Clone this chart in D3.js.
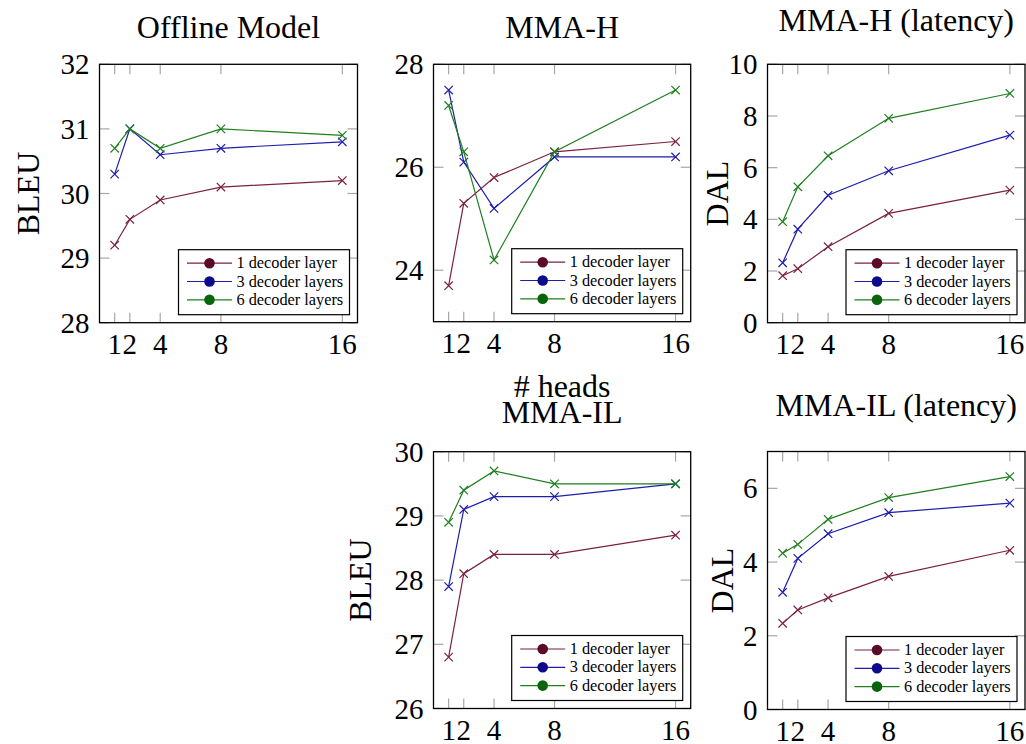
<!DOCTYPE html>
<html>
<head>
<meta charset="utf-8">
<script src="https://cdn.jsdelivr.net/npm/d3@7"></script>
<style>
  html, body { margin: 0; padding: 0; background: #fff; }
  svg { display: block; }
  text { font-family: "Liberation Serif", "Times New Roman", serif; fill: #000; }
</style>
</head>
<body>
<svg id="chart" width="1026" height="744"></svg>
<script>
// Number of attention heads on the x axis
const heads = [1, 2, 4, 8, 16];
const seriesNames = ["1 decoder layer", "3 decoder layers", "6 decoder layers"];

// Offline model BLEU
const offline1 = [29.2, 29.6, 29.9, 30.1, 30.2];
const offline3 = [30.3, 31.0, 30.6, 30.7, 30.8];
const offline6 = [30.7, 31.0, 30.7, 31.0, 30.9];

// MMA-H BLEU
const mmaH1 = [23.7, 25.3, 25.8, 26.3, 26.5];
const mmaH3 = [27.5, 26.1, 25.2, 26.2, 26.2];
const mmaH6 = [27.2, 26.3, 24.2, 26.3, 27.5];

// MMA-H latency (DAL)
const mmaHLat1 = [1.82, 2.09, 2.94, 4.23, 5.13];
const mmaHLat3 = [2.32, 3.62, 4.93, 5.88, 7.26];
const mmaHLat6 = [3.91, 5.26, 6.46, 7.91, 8.87];

// MMA-IL BLEU
const mmaIL1 = [26.8, 28.1, 28.4, 28.4, 28.7];
const mmaIL3 = [27.9, 29.1, 29.3, 29.3, 29.5];
const mmaIL6 = [28.9, 29.4, 29.7, 29.5, 29.5];

// MMA-IL latency (DAL)
const mmaILLat1 = [2.34, 2.70, 3.03, 3.61, 4.32];
const mmaILLat3 = [3.18, 4.10, 4.77, 5.34, 5.60];
const mmaILLat6 = [4.24, 4.48, 5.16, 5.75, 6.32];

// Axis tick values
const bleuTicksOffline = [28, 29, 30, 31, 32];
const bleuTicksMmaH = [24, 26, 28];
const dalTicksMmaH = [0, 2, 4, 6, 8, 10];
const bleuTicksMmaIL = [26, 27, 28, 29, 30];
const dalTicksMmaIL = [0, 2, 4, 6];

const lineColors = ["#7a2140", "#1d1dae", "#1f7f1f"];
const dotColors = ["#5a0a28", "#0b0b8c", "#0a650a"];

const panels = [
  { title: "Offline Model", ylabel: "BLEU", xlabel: null,
    box: [99.5, 64.3, 357.5, 322.7], yDomain: [28, 32], yTicks: bleuTicksOffline,
    series: [offline1, offline3, offline6], titleY: 38, ylabelX: 39 },
  { title: "MMA-H", ylabel: null, xlabel: "# heads",
    box: [433.5, 64.3, 690.7, 321.7], yDomain: [23, 28], yTicks: bleuTicksMmaH,
    series: [mmaH1, mmaH3, mmaH6], titleY: 38 },
  { title: "MMA-H (latency)", ylabel: "DAL", xlabel: null,
    box: [767.5, 64.3, 1025, 322.7], yDomain: [0, 10], yTicks: dalTicksMmaH,
    series: [mmaHLat1, mmaHLat3, mmaHLat6], titleY: 31, ylabelX: 728 },
  { title: "MMA-IL", ylabel: "BLEU", xlabel: null,
    box: [433.5, 451.7, 690.7, 708.5], yDomain: [26, 30], yTicks: bleuTicksMmaIL,
    series: [mmaIL1, mmaIL3, mmaIL6], titleY: 423, ylabelX: 371 },
  { title: "MMA-IL (latency)", ylabel: "DAL", xlabel: null,
    box: [767.5, 451.5, 1025, 709.5], yDomain: [0, 7], yTicks: dalTicksMmaIL,
    series: [mmaILLat1, mmaILLat3, mmaILLat6], titleY: 416, ylabelX: 733 }
];

const svg = d3.select("#chart");
const tickFont = 29;
const labelFont = 32;
const tickLen = 10;

panels.forEach(p => {
  const [x0, y0, x1, y1] = p.box;
  const x = d3.scaleLinear().domain([0, 17]).range([x0, x1]);
  const y = d3.scaleLinear().domain(p.yDomain).range([y1, y0]);
  const g = svg.append("g");

  // inner tick marks on all four sides
  const tickG = g.append("g").attr("stroke", "#a6a6a6").attr("stroke-width", 1.2);
  heads.forEach(h => {
    tickG.append("line").attr("x1", x(h)).attr("x2", x(h)).attr("y1", y1).attr("y2", y1 - tickLen);
    tickG.append("line").attr("x1", x(h)).attr("x2", x(h)).attr("y1", y0).attr("y2", y0 + tickLen);
  });
  p.yTicks.forEach(t => {
    tickG.append("line").attr("x1", x0).attr("x2", x0 + tickLen).attr("y1", y(t)).attr("y2", y(t));
    tickG.append("line").attr("x1", x1).attr("x2", x1 - tickLen).attr("y1", y(t)).attr("y2", y(t));
  });

  // frame
  g.append("rect").attr("x", x0).attr("y", y0).attr("width", x1 - x0).attr("height", y1 - y0)
    .attr("fill", "none").attr("stroke", "#000").attr("stroke-width", 1.3);

  // tick labels
  g.selectAll(".xt").data(heads).enter().append("text")
    .attr("x", d => x(d)).attr("y", y1 + 31.5)
    .attr("text-anchor", "middle").attr("font-size", tickFont).text(d => d);
  g.selectAll(".yt").data(p.yTicks).enter().append("text")
    .attr("x", x0 - 10).attr("y", d => y(d) + 10)
    .attr("text-anchor", "end").attr("font-size", tickFont).text(d => d);

  // title
  g.append("text").attr("x", (x0 + x1) / 2).attr("y", p.titleY)
    .attr("text-anchor", "middle").attr("font-size", labelFont).text(p.title);

  if (p.ylabel) {
    g.append("text")
      .attr("transform", `translate(${p.ylabelX},${(y0 + y1) / 2}) rotate(-90)`)
      .attr("text-anchor", "middle").attr("font-size", labelFont).text(p.ylabel);
  }
  if (p.xlabel) {
    g.append("text").attr("x", (x0 + x1) / 2).attr("y", 397)
      .attr("text-anchor", "middle").attr("font-size", labelFont).text(p.xlabel);
  }

  // series lines with x markers
  const line = d3.line().x((d, i) => x(heads[i])).y(d => y(d));
  p.series.forEach((vals, si) => {
    g.append("path").datum(vals).attr("d", line)
      .attr("fill", "none").attr("stroke", lineColors[si]).attr("stroke-width", 1.2);
    const m = 4.2;
    vals.forEach((v, i) => {
      const cx = x(heads[i]), cy = y(v);
      g.append("path")
        .attr("d", `M${cx - m},${cy - m}L${cx + m},${cy + m}M${cx - m},${cy + m}L${cx + m},${cy - m}`)
        .attr("stroke", lineColors[si]).attr("stroke-width", 1.2).attr("fill", "none");
    });
  });

  // legend
  const lw = 171, lh = 65;
  const lx = x1 - 8 - lw, ly = y1 - 8 - lh;
  const lg = g.append("g");
  lg.append("rect").attr("x", lx).attr("y", ly).attr("width", lw).attr("height", lh)
    .attr("fill", "#fff").attr("stroke", "#000").attr("stroke-width", 1.2);
  seriesNames.forEach((name, si) => {
    const ry = ly + 13.5 + si * 18.3;
    lg.append("line").attr("x1", lx + 8.5).attr("x2", lx + 53.5).attr("y1", ry).attr("y2", ry)
      .attr("stroke", lineColors[si]).attr("stroke-width", 1.2);
    lg.append("circle").attr("cx", lx + 31).attr("cy", ry).attr("r", 5.3).attr("fill", dotColors[si]);
    lg.append("text").attr("x", lx + 58).attr("y", ry + 5)
      .attr("font-size", 16.3).text(name);
  });
});
</script>
</body>
</html>
